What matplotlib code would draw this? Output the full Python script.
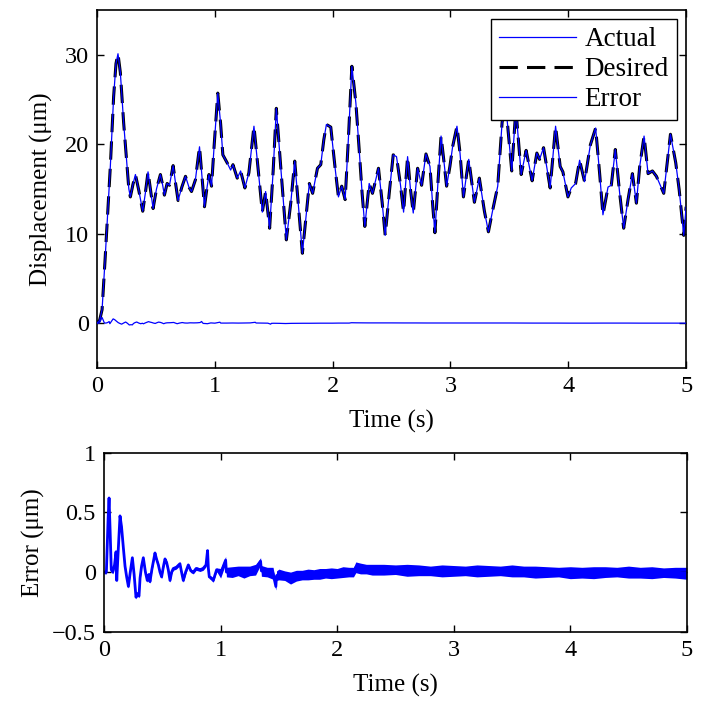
import numpy as np
import matplotlib
matplotlib.use('Agg')
import matplotlib.pyplot as plt
from matplotlib.ticker import FuncFormatter

plt.rcParams['font.family'] = ['Liberation Serif', 'DejaVu Serif']
plt.rcParams['font.size'] = 15

# desired displacement trajectory (um)
disp_t = [0.000, 0.022, 0.043, 0.068, 0.113, 0.141, 0.161, 0.178, 0.198, 0.226,
          0.255, 0.270, 0.283, 0.305, 0.326, 0.355, 0.388, 0.410, 0.433, 0.455,
          0.476, 0.505, 0.538, 0.556, 0.572, 0.595, 0.615, 0.646, 0.668, 0.688,
          0.720, 0.751, 0.780, 0.802, 0.835, 0.870, 0.890, 0.912, 0.930, 0.950,
          0.972, 0.995, 1.025, 1.049, 1.068, 1.105, 1.134, 1.154, 1.190, 1.219,
          1.255, 1.289, 1.332, 1.360, 1.403, 1.431, 1.465, 1.495, 1.522, 1.559,
          1.607, 1.645, 1.678, 1.710, 1.743, 1.775, 1.802, 1.830, 1.871, 1.899,
          1.925, 1.947, 1.984, 2.021, 2.049, 2.077, 2.106, 2.135, 2.163, 2.197,
          2.225, 2.250, 2.273, 2.310, 2.338, 2.389, 2.420, 2.446, 2.480, 2.514,
          2.542, 2.575, 2.602, 2.636, 2.660, 2.684, 2.721, 2.755, 2.792, 2.826,
          2.850, 2.868, 2.895, 2.920, 2.945, 2.967, 2.995, 3.018, 3.055, 3.081,
          3.110, 3.155, 3.203, 3.245, 3.288, 3.322, 3.358, 3.401, 3.438, 3.465,
          3.520, 3.555, 3.600, 3.642, 3.693, 3.733, 3.756, 3.790, 3.846, 3.892,
          3.931, 3.954, 3.997, 4.025, 4.062, 4.096, 4.138, 4.187, 4.232, 4.266,
          4.294, 4.337, 4.365, 4.399, 4.436, 4.470, 4.507, 4.544, 4.578, 4.606,
          4.643, 4.677, 4.714, 4.748, 4.810, 4.840, 4.867, 4.912, 4.941, 4.980,
          5.000]
desired = [0.0, 0.3, 1.5, 7.0, 17.5, 25.3, 29.0, 30.1, 28.0, 22.4,
           17.5, 15.0, 14.1, 15.5, 16.6, 14.8, 12.5, 14.5, 16.9, 14.8,
           12.8, 15.0, 16.6, 15.5, 14.3, 15.6, 15.4, 17.6, 15.5, 13.7,
           15.2, 16.4, 15.2, 14.7, 16.0, 19.7, 16.5, 13.0, 14.8, 16.6,
           15.3, 20.0, 25.7, 22.3, 18.8, 17.9, 17.1, 17.7, 16.2, 17.0,
           15.1, 16.8, 22.0, 18.2, 12.4, 14.7, 10.6, 17.0, 24.0, 17.5,
           9.3, 13.5, 18.1, 13.0, 7.8, 12.0, 15.6, 14.5, 17.3, 17.7,
           20.5, 22.2, 21.9, 17.3, 14.1, 15.3, 13.8, 21.0, 28.7, 24.6,
           19.4, 14.5, 10.8, 15.6, 14.5, 17.3, 13.5, 9.8, 14.5, 18.8,
           18.6, 15.5, 12.4, 18.6, 15.0, 12.3, 17.3, 15.4, 18.9, 17.5,
           13.0, 10.1, 16.0, 20.9, 18.0, 15.3, 17.5, 19.7, 22.0, 19.0,
           14.1, 18.3, 13.5, 16.2, 12.5, 10.2, 12.6, 15.3, 22.4, 25.0,
           17.0, 24.0, 16.6, 19.3, 15.9, 19.0, 18.3, 19.6, 15.1, 22.0,
           17.5, 16.9, 14.1, 15.1, 15.6, 18.2, 15.8, 19.9, 21.8, 16.7,
           12.1, 15.2, 15.4, 19.4, 14.5, 10.6, 13.8, 16.7, 13.4, 17.5,
           20.9, 16.7, 17.0, 16.4, 14.5, 18.0, 21.1, 17.9, 14.9, 9.8,
           13.0]
actual = desired  # tracks the reference within line width

# tracking error (um): centre line and half-width of the noise band
err_t = [0.000, 0.020, 0.035, 0.043, 0.052, 0.062, 0.075, 0.090, 0.103, 0.109,
         0.120, 0.137, 0.150, 0.166, 0.180, 0.194, 0.209, 0.225, 0.243, 0.258,
         0.274, 0.288, 0.300, 0.309, 0.322, 0.337, 0.355, 0.371, 0.385, 0.394,
         0.410, 0.437, 0.450, 0.466, 0.480, 0.494, 0.510, 0.523, 0.537, 0.551,
         0.566, 0.580, 0.594, 0.620, 0.651, 0.665, 0.680, 0.700, 0.723, 0.745,
         0.766, 0.790, 0.823, 0.850, 0.875, 0.888, 0.895, 0.903, 0.920, 0.937,
         0.966, 1.000, 1.043, 1.050, 1.100, 1.150, 1.200, 1.250, 1.300, 1.343,
         1.350, 1.400, 1.450, 1.474, 1.480, 1.500, 1.550, 1.600, 1.650, 1.700,
         1.750, 1.800, 1.850, 1.900, 1.950, 2.000, 2.050, 2.100, 2.140, 2.160,
         2.200, 2.250, 2.300, 2.400, 2.500, 2.600, 2.700, 2.800, 2.900, 3.000,
         3.100, 3.200, 3.300, 3.400, 3.500, 3.600, 3.700, 3.800, 3.900, 4.000,
         4.100, 4.200, 4.300, 4.400, 4.500, 4.600, 4.700, 4.800, 4.900, 5.000]
err_mid = [0.0, 0.0, 0.45, 0.62, 0.35, 0.02, 0.0, 0.06, 0.17, -0.07,
           0.15, 0.47, 0.38, 0.20, 0.05, -0.04, -0.12, 0.0, 0.12, -0.02,
           -0.21, -0.18, -0.20, -0.05, 0.05, 0.12, 0.0, -0.07, -0.02, -0.08,
           0.02, 0.16, 0.11, 0.06, 0.0, -0.04, 0.05, 0.11, 0.08, 0.02,
           -0.07, 0.0, 0.03, 0.04, 0.07, 0.0, -0.07, 0.0, 0.06, 0.01,
           0.0, 0.03, 0.02, 0.03, 0.06, 0.18, 0.03, -0.04, -0.05, -0.07,
           0.02, -0.01, 0.10, 0.0, 0.0, 0.01, 0.0, 0.01, 0.02, 0.09,
           0.01, 0.0, -0.01, -0.12, -0.03, -0.02, -0.03, -0.05, -0.03, -0.025,
           -0.02, -0.02, -0.015, -0.01, -0.01, -0.01, 0.0, 0.0, 0.0, 0.04,
           0.03, 0.025, 0.02, 0.02, 0.02, 0.015, 0.015, 0.01, 0.01, 0.01,
           0.01, 0.01, 0.01, 0.01, 0.01, 0.005, 0.0, 0.0, 0.0, -0.005,
           -0.005, -0.005, 0.0, 0.0, 0.0, -0.005, -0.005, -0.005, -0.005, -0.01]
err_half = [0.015] * 61 + [0.04, 0.03, 0.04, 0.045, 0.04, 0.05, 0.04, 0.045, 0.03,
                           0.045, 0.04, 0.05, 0.03, 0.04, 0.045, 0.04, 0.05, 0.045, 0.04,
                           0.045, 0.04, 0.045, 0.04, 0.045, 0.04, 0.045, 0.04, 0.04, 0.045,
                           0.045, 0.04, 0.045, 0.045, 0.04, 0.05, 0.045, 0.04, 0.05, 0.045,
                           0.04, 0.05, 0.045, 0.04, 0.05, 0.045, 0.05, 0.045, 0.04, 0.05,
                           0.045, 0.05, 0.045, 0.04, 0.05, 0.045, 0.05, 0.04, 0.045, 0.05]

blue = '#0000ff'
fig = plt.figure(figsize=(7.03, 7.06), dpi=100)
ax1 = fig.add_axes([0.138, 0.479, 0.838, 0.507])
ax2 = fig.add_axes([0.148, 0.105, 0.829, 0.254])

# top: displacement
ax1.plot(disp_t, actual, color=blue, lw=0.9, label='Actual', zorder=3)
ax1.plot(disp_t, desired, color='black', lw=2.2, ls=(0, (6, 3)), label='Desired', zorder=2)
ax1.plot(err_t, err_mid, color=blue, lw=0.9, label='Error', zorder=3)
ax1.set_xlim(0, 5)
ax1.set_ylim(-5, 35)
ax1.set_xticks([0, 1, 2, 3, 4, 5])
ax1.set_yticks([0, 10, 20, 30])
ax1.set_xlabel('Time (s)', labelpad=9)
ax1.set_ylabel('Displacement (μm)', labelpad=8)
leg = ax1.legend(loc='upper right', fancybox=False, framealpha=1, edgecolor='black',
                 handlelength=2.85, borderaxespad=0.35, borderpad=0.3,
                 labelspacing=0.18, handletextpad=0.3, fontsize=19.5)
leg.get_frame().set_linewidth(1.0)
leg.set_zorder(5)

# bottom: error
err_mid_a = np.array(err_mid)
err_half_a = np.array(err_half)
ax2.fill_between(err_t, err_mid_a - err_half_a, err_mid_a + err_half_a,
                 color=blue, lw=0)
ax2.plot(err_t, err_mid, color=blue, lw=2.0)
ax2.set_xlim(0, 5)
ax2.set_ylim(-0.5, 1)
ax2.set_xticks([0, 1, 2, 3, 4, 5])
ax2.set_yticks([-0.5, 0, 0.5, 1])
ax2.yaxis.set_major_formatter(FuncFormatter(lambda v, p: ('%g' % v).replace('-', '\u2212')))
ax2.set_xlabel('Time (s)', labelpad=9)
ax2.set_ylabel('Error (μm)', labelpad=5)

for ax in (ax1, ax2):
    ax.tick_params(direction='in', top=True, right=True, length=5, width=1,
                   labelsize=17.5, pad=6)
    for s in ax.spines.values():
        s.set_linewidth(1.2)
    ax.xaxis.label.set_size(18)
    ax.yaxis.label.set_size(18)

fig.savefig('out.png', dpi=100)
